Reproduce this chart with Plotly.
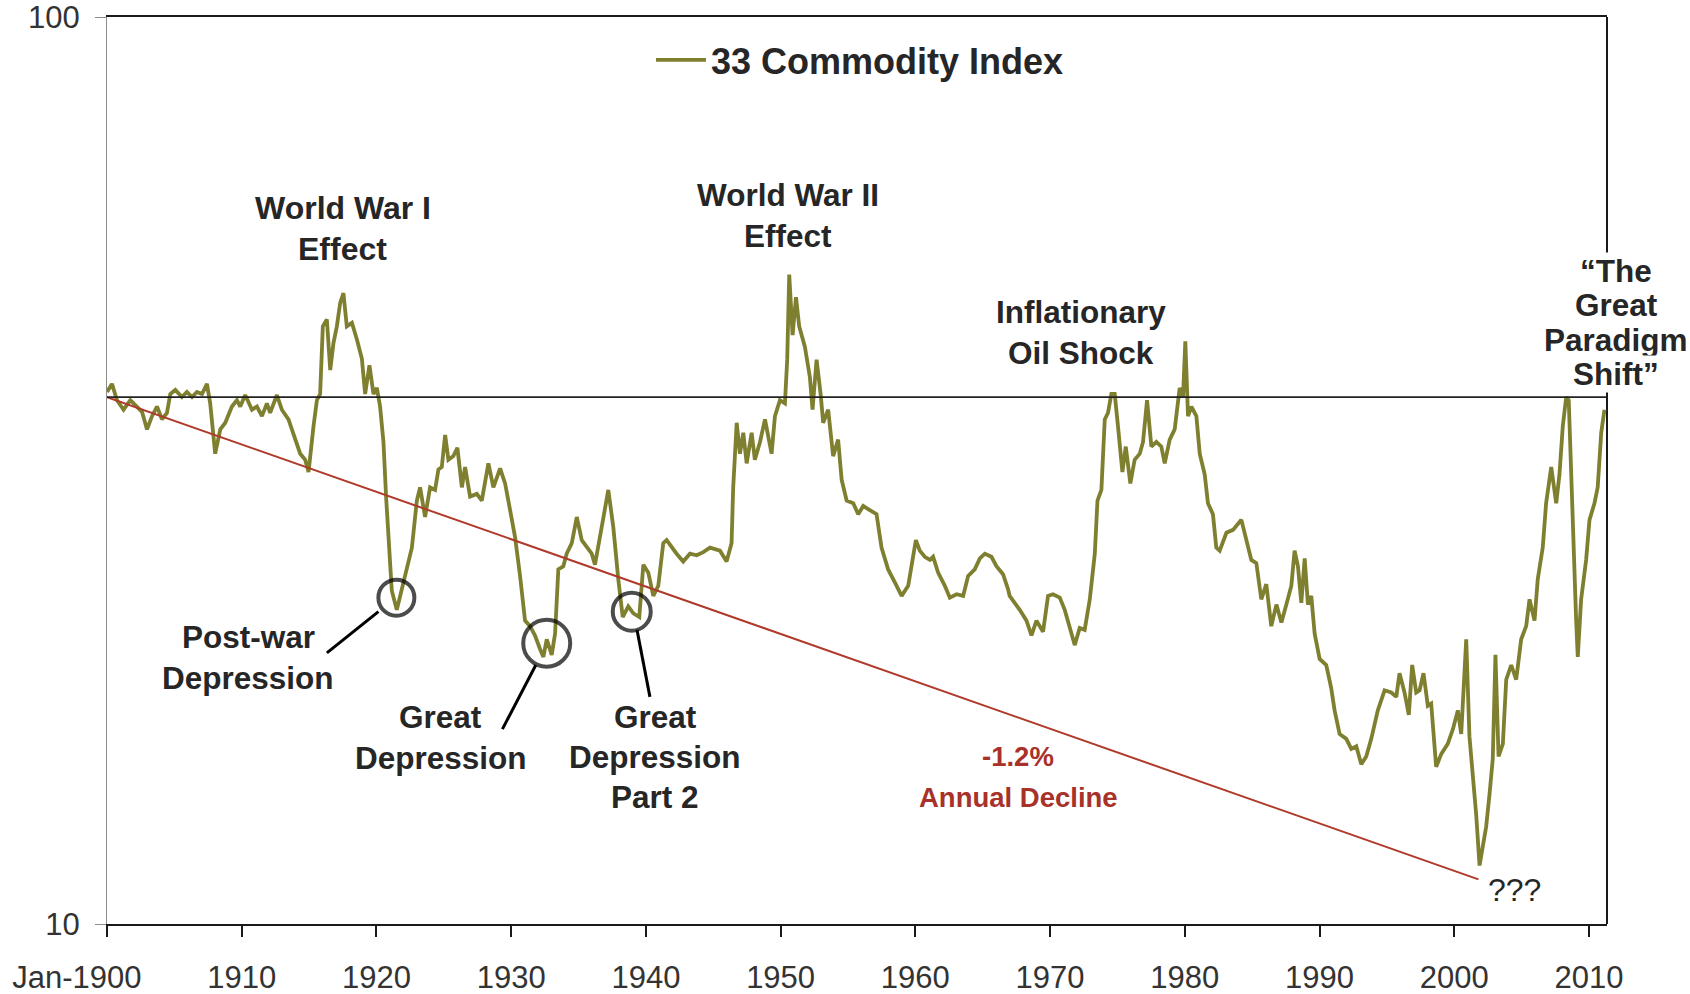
import numpy as np
import plotly.graph_objects as go

# 33 commodity index (log scale, 1900-2011)
YEARS = [
    1900.00, 1900.37, 1900.74, 1901.23, 1901.73, 1902.23, 1902.60, 1902.97, 1903.34, 1903.71,
    1904.08, 1904.45, 1904.70, 1905.07, 1905.56, 1905.93, 1906.31, 1906.68, 1907.05, 1907.42,
    1907.66, 1908.03, 1908.41, 1908.78, 1909.27, 1909.64, 1909.89, 1910.26, 1910.76, 1911.13,
    1911.50, 1911.87, 1912.11, 1912.61, 1912.98, 1913.47, 1913.97, 1914.34, 1914.71, 1914.96,
    1915.33, 1915.58, 1915.82, 1916.02, 1916.32, 1916.57, 1916.81, 1917.06, 1917.31, 1917.55,
    1917.80, 1918.18, 1918.55, 1918.92, 1919.16, 1919.48, 1919.78, 1920.03, 1920.27, 1920.52,
    1920.72, 1920.89, 1921.14, 1921.51, 1921.76, 1922.26, 1922.63, 1923.00, 1923.24, 1923.61,
    1923.98, 1924.35, 1924.60, 1924.85, 1925.10, 1925.34, 1925.71, 1926.01, 1926.34, 1926.58,
    1926.95, 1927.45, 1927.82, 1928.31, 1928.68, 1929.18, 1929.55, 1929.92, 1930.29, 1930.66,
    1931.03, 1931.40, 1931.77, 1932.14, 1932.39, 1932.64, 1933.01, 1933.26, 1933.50, 1933.87,
    1934.12, 1934.50, 1934.87, 1935.24, 1935.61, 1935.98, 1936.22, 1936.60, 1936.89, 1937.21,
    1937.58, 1937.95, 1938.28, 1938.69, 1939.07, 1939.51, 1939.81, 1940.18, 1940.55, 1940.92,
    1941.29, 1941.54, 1941.91, 1942.28, 1942.77, 1943.27, 1943.77, 1944.26, 1944.76, 1945.50,
    1945.99, 1946.36, 1946.48, 1946.74, 1946.98, 1947.23, 1947.48, 1947.85, 1948.09, 1948.47,
    1948.84, 1949.08, 1949.33, 1949.58, 1949.95, 1950.32, 1950.49, 1950.64, 1950.89, 1951.14,
    1951.38, 1951.80, 1952.17, 1952.37, 1952.67, 1952.97, 1953.16, 1953.53, 1953.90, 1954.27,
    1954.53, 1954.90, 1955.39, 1955.76, 1956.13, 1956.62, 1957.12, 1957.49, 1957.98, 1958.48,
    1958.98, 1959.47, 1959.84, 1960.04, 1960.33, 1960.70, 1961.08, 1961.32, 1961.69, 1962.19,
    1962.56, 1963.06, 1963.55, 1963.92, 1964.41, 1964.79, 1965.16, 1965.65, 1966.02, 1966.51,
    1966.88, 1967.00, 1967.75, 1968.25, 1968.62, 1968.99, 1969.48, 1969.85, 1970.22, 1970.72,
    1971.09, 1971.46, 1971.83, 1972.20, 1972.57, 1972.95, 1973.32, 1973.52, 1973.81, 1974.06,
    1974.30, 1974.55, 1974.80, 1975.04, 1975.37, 1975.62, 1975.96, 1976.28, 1976.66, 1976.90,
    1977.20, 1977.52, 1977.89, 1978.26, 1978.51, 1978.88, 1979.25, 1979.62, 1979.87, 1980.04,
    1980.24, 1980.49, 1980.86, 1981.11, 1981.48, 1981.72, 1982.09, 1982.34, 1982.59, 1983.09,
    1983.58, 1984.20, 1984.57, 1984.94, 1985.31, 1985.68, 1986.05, 1986.42, 1986.80, 1987.17,
    1987.54, 1987.91, 1988.15, 1988.40, 1988.65, 1988.90, 1989.14, 1989.39, 1989.64, 1990.01,
    1990.50, 1990.87, 1991.12, 1991.49, 1991.99, 1992.36, 1992.73, 1993.10, 1993.47, 1993.84,
    1994.33, 1994.83, 1995.33, 1995.70, 1995.94, 1996.31, 1996.63, 1996.88, 1997.18, 1997.43,
    1997.72, 1998.04, 1998.29, 1998.66, 1999.04, 1999.52, 1999.90, 2000.27, 2000.52, 2000.89,
    2001.13, 2001.38, 2001.63, 2001.88, 2002.12, 2002.37, 2002.62, 2002.86, 2003.06, 2003.29,
    2003.61, 2003.86, 2004.23, 2004.60, 2004.97, 2005.34, 2005.59, 2005.96, 2006.20, 2006.57,
    2006.82, 2007.20, 2007.57, 2007.81, 2008.06, 2008.31, 2008.50, 2008.68, 2008.85, 2009.05,
    2009.17, 2009.42, 2009.79, 2010.04, 2010.41, 2010.65, 2010.91, 2011.15,
]
INDEX = [
    38.6, 39.4, 37.8, 36.9, 37.8, 37.2, 36.7, 35.1, 36.3, 37.2,
    36.0, 36.6, 38.4, 38.8, 38.1, 38.6, 38.1, 38.6, 38.4, 39.4,
    37.5, 33.0, 35.1, 35.7, 37.2, 37.8, 37.2, 38.3, 36.9, 37.2,
    36.3, 37.5, 36.6, 38.3, 36.9, 36.0, 34.2, 33.0, 32.5, 31.5,
    35.4, 37.8, 38.4, 45.6, 46.4, 40.8, 43.7, 45.6, 48.4, 49.6,
    45.6, 46.0, 44.1, 42.0, 38.4, 41.3, 38.4, 39.0, 37.2, 34.0,
    29.5, 26.3, 23.3, 22.2, 23.0, 24.6, 26.0, 29.3, 30.3, 28.1,
    30.3, 30.1, 31.7, 31.9, 34.6, 32.5, 32.8, 33.5, 30.3, 31.9,
    29.6, 29.8, 29.3, 32.2, 30.3, 31.8, 30.6, 28.6, 26.7, 24.2,
    21.6, 21.3, 20.8, 20.1, 19.7, 20.6, 19.8, 20.9, 24.6, 24.8,
    25.6, 26.3, 28.1, 26.5, 26.0, 25.6, 24.9, 27.0, 28.3, 30.1,
    27.4, 24.0, 21.8, 22.4, 22.0, 21.8, 24.9, 24.4, 23.0, 23.6,
    26.3, 26.5, 26.0, 25.6, 25.1, 25.6, 25.5, 25.7, 26.0, 25.8,
    25.1, 26.3, 30.3, 35.7, 33.0, 34.8, 32.2, 34.8, 32.5, 34.0,
    36.0, 34.4, 33.0, 36.3, 37.8, 37.5, 41.9, 52.0, 44.6, 49.1,
    45.6, 43.3, 40.1, 36.9, 41.9, 38.4, 35.7, 36.9, 32.8, 34.2,
    30.9, 29.3, 29.1, 28.3, 28.9, 28.6, 28.3, 26.0, 24.6, 23.8,
    23.0, 23.6, 25.6, 26.5, 25.8, 25.4, 25.2, 25.4, 24.4, 23.6,
    22.9, 23.1, 23.0, 24.2, 24.6, 25.3, 25.6, 25.4, 24.8, 24.3,
    23.4, 23.0, 22.2, 21.6, 20.8, 21.6, 21.0, 23.0, 23.1, 22.9,
    22.2, 21.3, 20.3, 21.2, 21.1, 22.8, 25.6, 29.3, 30.1, 36.0,
    36.6, 38.4, 38.4, 35.4, 31.5, 33.6, 30.6, 32.5, 33.0, 34.0,
    37.8, 33.6, 34.0, 33.6, 32.2, 34.2, 35.1, 39.0, 38.1, 43.9,
    36.3, 37.2, 36.3, 33.0, 31.3, 29.1, 28.3, 26.0, 25.8, 27.0,
    27.2, 27.9, 26.5, 25.2, 25.0, 22.8, 23.7, 21.3, 22.5, 21.5,
    22.5, 23.6, 25.8, 24.8, 22.6, 25.3, 22.5, 23.0, 20.9, 19.6,
    19.3, 18.2, 17.2, 16.2, 16.0, 15.6, 15.7, 15.0, 15.3, 16.0,
    17.2, 18.1, 18.0, 17.8, 18.9, 18.0, 17.0, 19.3, 18.0, 18.1,
    18.9, 17.4, 17.5, 14.9, 15.4, 15.8, 16.4, 17.2, 16.2, 20.6,
    16.1, 14.6, 13.2, 11.6, 12.1, 12.8, 13.9, 15.2, 19.8, 15.3,
    15.8, 18.6, 19.3, 18.6, 20.6, 21.3, 22.8, 21.6, 24.0, 26.0,
    29.1, 31.9, 29.1, 31.3, 35.4, 38.1, 37.8, 31.3, 25.2, 21.6,
    19.7, 22.8, 25.2, 27.9, 29.1, 30.3, 34.8, 36.9,
]

# -1.2% annual decline trend, and the 1900 starting level
TREND_YEARS = [1900.0, 2001.8]
TREND_VALUES = [38.1, 11.2]
BASE_LEVEL = 38.1

# circled troughs and their leader lines
TROUGH_YEARS = [1921.48, 1932.64, 1938.95]
TROUGH_VALUES = [22.9, 20.4, 22.1]
LEADER_YEARS = [1920.15, 1916.32, None, 1931.83, 1929.35, None, 1939.34, 1940.30]
LEADER_VALUES = [22.1, 19.9, None, 19.3, 16.4, None, 21.1, 17.8]

X_RANGE = [1900, 2011.34]
TICK_YEARS = list(range(1900, 2011, 10))
TICK_TEXT = ["Jan-1900" + "&nbsp;" * 7] + [str(y) for y in TICK_YEARS[1:]]

FONT = "Liberation Sans, Arial, sans-serif"
TEXT = "#262626"
OLIVE = "#7f7f30"
TREND_RED = "#b03a2a"
NOTE_RED = "#a8312a"

fig = go.Figure()

fig.add_trace(go.Scatter(
    x=YEARS, y=INDEX,
    mode="lines",
    name="33 Commodity Index",
    line=dict(color=OLIVE, width=3.8),
))

fig.add_trace(go.Scatter(
    x=TREND_YEARS, y=TREND_VALUES,
    mode="lines",
    line=dict(color=TREND_RED, width=2),
    showlegend=False,
))

fig.add_trace(go.Scatter(
    x=X_RANGE, y=[BASE_LEVEL, BASE_LEVEL],
    mode="lines",
    line=dict(color="#222222", width=1.6),
    showlegend=False,
))

fig.add_trace(go.Scatter(
    x=LEADER_YEARS, y=LEADER_VALUES,
    mode="lines",
    line=dict(color="black", width=3),
    showlegend=False,
))

fig.add_trace(go.Scatter(
    x=TROUGH_YEARS, y=TROUGH_VALUES,
    mode="markers",
    marker=dict(symbol="circle-open", size=[36, 47, 38], color="black",
                line=dict(width=4, color="black")),
    showlegend=False,
))


def add_note(lines, x, level, xref="x", color=TEXT, size=31.5, spacing=41, bold=True,
             bg="rgba(0,0,0,0)"):
    """One annotation per text line; (x, level) is the centre of the first line."""
    for i, line in enumerate(lines):
        fig.add_annotation(
            x=x, y=np.log10(level), xref=xref, yref="y",
            xanchor="center", yanchor="middle",
            text=line, showarrow=False, yshift=-i * spacing,
            bgcolor=bg, borderpad=0,
            font=dict(family=FONT, size=size, color=color, weight="bold" if bold else "normal"),
        )


add_note(["World War I", "Effect"], 1917.51, 61.6, size=32)
add_note(["World War II", "Effect"], 1950.53, 63.7)
add_note(["Inflationary", "Oil Shock"], 1972.28, 47.3)
add_note(["Post-war", "Depression"], 1910.47, 20.7)
add_note(["Great", "Depression"], 1924.79, 16.9)
add_note(["Great", "Depression", "Part 2"], 1940.70, 16.9, spacing=40)
add_note(["-1.2%", "Annual Decline"], 1967.64, 15.3, color=NOTE_RED, size=27.5)
add_note(["???"], 2004.50, 10.9, bold=False, size=32)
# sits just right of the plot area, so it is placed in paper units
add_note(["\u201cThe", "Great", "Paradigm", "Shift\u201d"], 1.0061, 52.5, xref="paper",
         spacing=34.5, bg="white")

# right border (left side is a lighter axis line)
fig.add_shape(type="line", xref="paper", yref="paper", x0=1, x1=1, y0=0, y1=1,
              line=dict(color="#1a1a1a", width=2), layer="below")

fig.update_layout(
    width=1690, height=994,
    margin=dict(l=107, r=83, t=17, b=70),
    plot_bgcolor="white",
    paper_bgcolor="white",
    font=dict(family=FONT, size=31, color="#333333"),
    legend=dict(
        orientation="h",
        x=0.502, xanchor="center",
        y=0.9526, yanchor="middle",
        font=dict(family=FONT, size=36, color=TEXT, weight="bold"),
        bgcolor="rgba(0,0,0,0)",
        itemwidth=50,
    ),
    xaxis=dict(
        range=X_RANGE,
        tickvals=TICK_YEARS,
        ticktext=TICK_TEXT,
        ticks="outside", ticklen=11, tickwidth=1.5, tickcolor="#1a1a1a",
        ticklabelstandoff=14,
        showline=True, linecolor="#1a1a1a", linewidth=2, mirror=True,
        showgrid=False, zeroline=False, automargin=False,
        tickfont=dict(size=31, color="#333333"),
    ),
    yaxis=dict(
        type="log",
        range=[1, 2],
        tickvals=[10, 100],
        ticktext=["10", "100"],
        ticks="outside", ticklen=11, tickwidth=1, tickcolor="#8c8c8c",
        ticklabelstandoff=9,
        ticklabeloverflow="allow",
        showline=True, linecolor="#8c8c8c", linewidth=1,
        showgrid=False, zeroline=False, automargin=False,
        tickfont=dict(size=31, color="#333333"),
    ),
)

# the page's default body margin would push the figure 8px off the window corner
fig.write_html("out.html", config={"displayModeBar": False},
               post_script="document.body.style.margin = '0';")
